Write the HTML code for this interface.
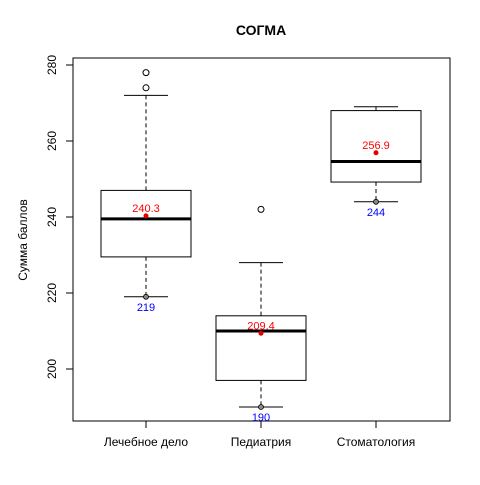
<!DOCTYPE html>
<html><head><meta charset="utf-8"><style>
body{margin:0;background:#fff}
svg text{font-family:"Liberation Sans","DejaVu Sans",sans-serif}
</style></head><body>
<svg id="c" width="480" height="480" xmlns="http://www.w3.org/2000/svg">
<rect width="480" height="480" fill="#fff"/>
<text x="261" y="35" font-size="14" font-weight="bold" text-anchor="middle">СОГМА</text>
<text transform="translate(27,240) rotate(-90)" font-size="12" text-anchor="middle">Сумма баллов</text>
<rect x="73" y="58" width="377" height="363" fill="none" stroke="#000"/>
<g id="g"></g>
</svg>
<script>
const categories=["Лечебное дело","Педиатрия","Стоматология"];
const q1=[229.5,197,249.2];
const med=[239.5,210.0,254.6];
const q3=[247,214,268];
const whiskLo=[219,190,244];
const whiskHi=[272,228,269];
const means=[240.3,209.4,256.9];
const meanLabels=["240.3","209.4","256.9"];
const minLabels=["219","190","244"];
const outliers=[[274,278],[242],[]];
const yTicks=[200,220,240,260,280];
const NS="http://www.w3.org/2000/svg";
const g=document.getElementById('g');
function y(v){return 369-(v-200)*3.8;}
function x(i){return 146+i*115;}
function el(t,a){const e=document.createElementNS(NS,t);for(const k in a)e.setAttribute(k,a[k]);g.appendChild(e);return e;}
yTicks.forEach(v=>{
 const l=el('line',{x1:66,x2:73,y1:y(v),y2:y(v),stroke:'#000'});
 
 
 const t=el('text',{transform:`translate(56,${y(v)}) rotate(-90)`,'font-size':12,'text-anchor':'middle'});
 t.textContent=v;
 
 
});
categories.forEach((c,i)=>{
 const cx=x(i),hw=45;
 const tk=el('line',{x1:cx,x2:cx,y1:421,y2:428,stroke:'#000'});
 
 
 const t=el('text',{x:cx,y:446,'font-size':12,'text-anchor':'middle'});t.textContent=c;
 
 
 const w1=el('line',{x1:cx,x2:cx,y1:y(whiskHi[i]),y2:y(q3[i]),stroke:'#000','stroke-dasharray':'4,3'});
 
 
 const w2=el('line',{x1:cx,x2:cx,y1:y(q1[i]),y2:y(whiskLo[i]),stroke:'#000','stroke-dasharray':'4,3'});
 
 
 [whiskHi[i],whiskLo[i]].forEach(v=>{
  const s=el('line',{x1:cx-22,x2:cx+22,y1:y(v),y2:y(v),stroke:'#000'});
  
  
 });
 const b=el('rect',{x:cx-hw,y:y(q3[i]),width:2*hw,height:y(q1[i])-y(q3[i]),fill:'none',stroke:'#000'});
 
 
 const m=el('line',{x1:cx-hw,x2:cx+hw,y1:y(med[i]),y2:y(med[i]),stroke:'#000','stroke-width':3});
 
 
 outliers[i].forEach(v=>{
  const o=el('circle',{cx:cx,cy:y(v),r:3,fill:'none',stroke:'#000'});
  
  
 });
 const mp=el('circle',{cx:cx,cy:y(whiskLo[i]),r:2.5,fill:'#888',stroke:'#000','stroke-width':0.8});
 
 
 const ml=el('text',{x:cx,y:y(whiskLo[i])+14,'font-size':11,fill:'#0000ff','text-anchor':'middle'});ml.textContent=minLabels[i];
 
 
 const mn=el('circle',{cx:cx,cy:y(means[i]),r:2.5,fill:'#e00000'});
 
 
 const mt=el('text',{x:cx,y:y(means[i])-4,'font-size':11,fill:'#ff0000','text-anchor':'middle'});mt.textContent=meanLabels[i];
 
 
});
</script>
</body></html>
